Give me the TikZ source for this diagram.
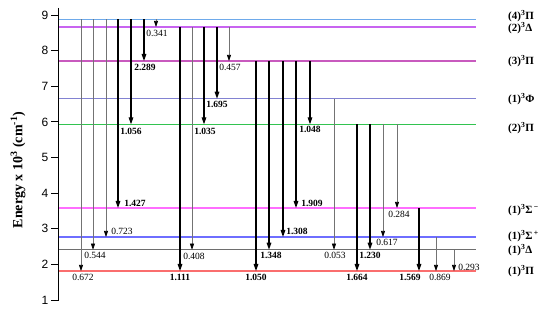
\documentclass[tikz,border=0pt]{standalone}
\usepackage{fontspec}
\setmainfont{Liberation Serif}
\newfontfamily\axisfont{Liberation Sans}
\usetikzlibrary{arrows.meta}
\definecolor{levA}{RGB}{110,170,235}
\definecolor{levB}{RGB}{200,100,240}
\definecolor{levC}{RGB}{200,90,190}
\definecolor{levD}{RGB}{130,130,210}
\definecolor{levE}{RGB}{50,195,80}
\definecolor{levF}{RGB}{255,110,255}
\definecolor{levG}{RGB}{110,110,255}
\definecolor{levH}{RGB}{110,110,110}
\definecolor{levI}{RGB}{250,110,110}
\tikzset{
  lvl/.style={line width=1.3pt},
  thinarr/.style={line width=0.6pt, draw=black!55, -{Triangle[length=6pt,width=4pt,fill=black,color=black]}},
  thickarr/.style={line width=1.2pt, draw=black, -{Triangle[length=7pt,width=4.6pt]}},
  nlab/.style={font=\fontsize{9.5}{10}\selectfont, inner sep=0pt},
  blab/.style={font=\fontsize{9.5}{10}\selectfont\bfseries, inner sep=0pt},
  slab/.style={font=\fontsize{11}{12}\selectfont\bfseries, inner sep=0pt, anchor=west},
  tick/.style={line width=0.9pt},
  ticklab/.style={font=\axisfont\fontsize{12}{13}\selectfont, anchor=east, inner sep=0pt},
}
\newcommand\trn[5]{%
  \coordinate (#1s) at (#2,#3);
  \coordinate (#1e) at (#2,#4);
  \draw[#5] (#1s) -- (#1e);}
\newcommand\lev[3]{%
  \coordinate (L#1w) at (58.5,#2);
  \coordinate (L#1e) at (476,#2);
  \draw[lvl,draw=#3] (L#1w) -- (L#1e);}
\begin{document}
\begin{tikzpicture}[x=1pt,y=-1pt]
\useasboundingbox (0,0) rectangle (550,310);
\def\yA{19.5}\def\yB{27}\def\yC{61}\def\yD{98.7}\def\yE{124.3}
\def\yF{208}\def\yG{237}\def\yH{249.7}\def\yI{271}
% levels
\lev{A}{\yA}{levA}
\lev{B}{\yB}{levB}
\lev{C}{\yC}{levC}
\lev{D}{\yD}{levD}
\lev{E}{\yE}{levE}
\lev{F}{\yF}{levF}
\lev{G}{\yG}{levG}
\lev{H}{\yH}{levH}
\lev{I}{\yI}{levI}
% axis
\coordinate (ax1) at (58.5,8);
\coordinate (ax2) at (58.5,300.5);
\draw[line width=1pt] (ax1) -- (ax2);
\foreach \v in {1,...,9}{
  \pgfmathsetmacro\ty{15+(9-\v)*35.625}
  \coordinate (tk\v) at (58.5,\ty);
  \draw[tick] (tk\v) -- ++(-7.5,0);
  \node[ticklab] (tl\v) at (48.5,\ty) {\v};
}
\node[rotate=90, font=\fontsize{14}{15}\selectfont\bfseries] (ylab) at (18,170) {Energy x 10\textsuperscript{3} (cm\textsuperscript{-1})};
% transitions
\trn{t1}{81}{\yA}{\yI}{thinarr}
\trn{t2}{93}{\yA}{\yH}{thinarr}
\trn{t3}{106}{\yA}{\yG}{thinarr}
\trn{t4}{118}{\yA}{\yF}{thickarr}
\trn{t5}{131}{\yA}{\yE}{thickarr}
\trn{t6}{144}{\yA}{\yC}{thickarr}
\trn{t7}{156}{\yA}{\yB}{thinarr}
\trn{t8}{180}{\yB}{\yI}{thickarr}
\trn{t9}{192}{\yB}{\yH}{thinarr}
\trn{t10}{204}{\yB}{\yE}{thickarr}
\trn{t11}{217}{\yB}{\yD}{thickarr}
\trn{t12}{229}{\yB}{\yC}{thinarr}
\trn{t13}{256}{\yC}{\yI}{thickarr}
\trn{t14}{269}{\yC}{\yH}{thickarr}
\trn{t15}{283}{\yC}{\yG}{thickarr}
\trn{t16}{296}{\yC}{\yF}{thickarr}
\trn{t17}{310}{\yC}{\yE}{thickarr}
\trn{t18}{334}{\yD}{\yH}{thinarr}
\trn{t19}{357}{\yE}{\yI}{thickarr}
\trn{t20}{370}{\yE}{\yH}{thickarr}
\trn{t21}{383}{\yE}{\yG}{thinarr}
\trn{t22}{397}{\yE}{\yF}{thinarr}
\trn{t23}{419}{\yF}{\yI}{thickarr}
\trn{t24}{436}{\yG}{\yI}{thinarr}
\trn{t25}{454}{\yH}{\yI}{thinarr}
% transition labels
\node[nlab] (n1) at (83,277) {0.672};
\node[nlab] (n2) at (95,255) {0.544};
\node[nlab] (n3) at (122,231) {0.723};
\node[blab] (n4) at (135,203) {1.427};
\node[blab] (n5) at (131,131) {1.056};
\node[blab] (n6) at (145,67) {2.289};
\node[nlab] (n7) at (157,33) {0.341};
\node[blab] (n8) at (180,277) {1.111};
\node[nlab] (n9) at (194,256) {0.408};
\node[blab] (n10) at (205,131) {1.035};
\node[blab] (n11) at (217,104) {1.695};
\node[nlab] (n12) at (230,67) {0.457};
\node[blab] (n13) at (256,277) {1.050};
\node[blab] (n14) at (271,255) {1.348};
\node[blab] (n15) at (297,231) {1.308};
\node[blab] (n16) at (312,203) {1.909};
\node[blab] (n17) at (310,129) {1.048};
\node[nlab] (n18) at (335,255) {0.053};
\node[blab] (n19) at (357,277) {1.664};
\node[blab] (n20) at (370,255) {1.230};
\node[nlab] (n21) at (387,242) {0.617};
\node[nlab] (n22) at (399,214) {0.284};
\node[blab] (n23) at (410,277) {1.569};
\node[nlab] (n24) at (440,277) {0.869};
\node[nlab] (n25) at (469,267) {0.293};
% state labels
\node[slab] (sA) at (508,16) {(4)\textsuperscript{3}Π};
\node[slab] (sB) at (508,28) {(2)\textsuperscript{3}Δ};
\node[slab] (sC) at (508,61) {(3)\textsuperscript{3}Π};
\node[slab] (sD) at (508,99) {(1)\textsuperscript{3}Φ};
\node[slab] (sE) at (508,128) {(2)\textsuperscript{3}Π};
\node[slab] (sF) at (508,210) {(1)\textsuperscript{3}Σ\textsuperscript{\,−}};
\node[slab] (sG) at (508,236) {(1)\textsuperscript{3}Σ\textsuperscript{\,+}};
\node[slab] (sH) at (508,250) {(1)\textsuperscript{3}Δ};
\node[slab] (sI) at (508,271) {(1)\textsuperscript{3}Π};
\end{tikzpicture}
\end{document}
